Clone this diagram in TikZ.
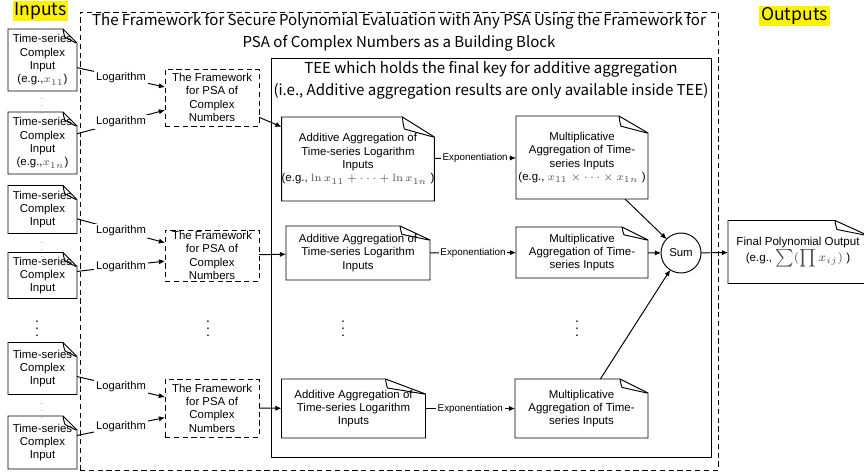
\documentclass[tikz,border=0pt]{standalone}
\usepackage[no-math]{fontspec}
\setmainfont{Liberation Sans}
\newfontfamily\titlefont{Noto Sans CJK KR}
\usetikzlibrary{calc,arrows.meta}

\newdimen\px \px=0.02cm
\colorlet{mathgray}{black!70}

\tikzset{
  box/.style={inner sep=0pt, outer sep=0pt, align=center, font=\fontsize{6.5}{7.6}\selectfont},
  inbox/.style={box, minimum width=69\px},
  fwbox/.style={box, draw, densely dashed, minimum width=94\px},
  aggbox/.style={box, minimum width=144\px},
  frame/.style={draw, inner sep=0pt, outer sep=0pt},
  ttl/.style={align=center, inner sep=0pt, font=\titlefont\fontsize{8.55}{12.6}\selectfont},
  hl/.style={fill=yellow, inner sep=1pt, font=\titlefont\fontsize{10}{12}\selectfont},
  lbl/.style={fill=white, inner sep=1pt, font=\fontsize{6.35}{7}\selectfont},
  explbl/.style={fill=white, inner sep=1pt, font=\fontsize{5.6}{6.5}\selectfont},
  vdots/.style={inner sep=0pt, font=\fontsize{8}{8}\selectfont},
  sdots/.style={inner sep=0pt, text=black!60, font=\fontsize{4.5}{5}\selectfont},
  arr/.style={-{Latex[length=3.5pt,width=3pt]}},
}

% outline of a page with a folded corner
\newcommand\docoutline[3]{%
  \draw (#1.north west) -- ($(#1.north east)+(-#2,0)$) -- ($(#1.north east)+(0,#3)$)
    -- (#1.south east) -- (#1.south west) -- cycle;
  \draw ($(#1.north east)+(-#2,0)$) .. controls ($(#1.north east)+(-#2+1,0.4*#3)$) ..
    ($(#1.north east)+(-#2+2,0.6*#3)$) -- ($(#1.north east)+(-1,#3)$);
}

\begin{document}
\begin{tikzpicture}[x=0.02cm, y=-0.02cm, line width=0.55pt]
  \useasboundingbox (0,0) rectangle (864,473);

  % frames and titles
  \node[frame, densely dashed, minimum width=638\px, minimum height=458\px] (psa) at (399,241) {};
  \node[ttl] (psattl) at (399,32.5) {The Framework for Secure Polynomial Evaluation with Any PSA Using the Framework for\\PSA of Complex Numbers as a Building Block};
  \node[frame, minimum width=440\px, minimum height=399\px] (tee) at (491,257.5) {};
  \node[ttl] (teettl) at (491,80.5) {TEE which holds the final key for additive aggregation\\(i.e., Additive aggregation results are only available inside TEE)};
  \node[hl] (inputs) at (40.5,11) {Inputs};
  \node[hl] (outputs) at (794.5,16) {Outputs};

  % inputs
  \node[inbox, minimum height=62\px] (in1) at (42.5,60) {Time-series\\Complex\\Input\\(e.g.,{\color{mathgray}$x_{11}$})};
  \node[inbox, minimum height=62\px] (in2) at (42.5,143) {Time-series\\Complex\\Input\\(e.g.,{\color{mathgray}$x_{1n}$})};
  \node[inbox, minimum height=48\px] (in3) at (42.5,209.5) {Time-series\\Complex\\Input};
  \node[inbox, minimum height=46\px] (in4) at (42.5,275.5) {Time-series\\Complex\\Input};
  \node[inbox, minimum height=52\px] (in5) at (42.5,368.5) {Time-series\\Complex\\Input};
  \node[inbox, minimum height=53\px] (in6) at (42.5,442.5) {Time-series\\Complex\\Input};
  \foreach \n in {in1,in2,in3,in4,in5,in6} {\docoutline{\n}{14}{14}}
  \node[sdots] (d1) at (42,101) {$\vdots$};
  \node[sdots] (d2) at (42,245) {$\vdots$};
  \node[sdots] (d3) at (42,406) {$\vdots$};
  \node[vdots] (d4) at (37,323) {$\vdots$};

  % frameworks for PSA of complex numbers
  \node[fwbox, minimum height=57\px] (fw1) at (212,97.5) {The Framework\\for PSA of\\Complex\\Numbers};
  \node[fwbox, minimum height=51\px] (fw2) at (212,255.5) {The Framework\\for PSA of\\Complex\\Numbers};
  \node[fwbox, minimum height=58\px] (fw3) at (212,408) {The Framework\\for PSA of\\Complex\\Numbers};
  \node[vdots] (d5) at (208,323) {$\vdots$};

  % aggregation inside TEE
  \node[aggbox, minimum height=84\px] (add1) at (358,159) {Additive Aggregation of\\Time-series Logarithm\\Inputs\\(e.g., {\color{mathgray}$\ln x_{11}+\cdots+\ln x_{1n}$} )};
  \node[aggbox, minimum height=54\px] (add2) at (358,253) {Additive Aggregation of\\Time-series Logarithm\\Inputs};
  \node[aggbox, minimum height=59\px] (add3) at (353.5,408.5) {Additive Aggregation of\\Time-series Logarithm\\Inputs};
  \node[aggbox, minimum width=132\px, minimum height=83\px] (mult1) at (582,157.5) {Multiplicative\\Aggregation of Time-\\series Inputs\\(e.g., {\color{mathgray}$x_{11}\times\cdots\times x_{1n}$} )};
  \node[aggbox, minimum width=132\px, minimum height=51\px] (mult2) at (582,252.5) {Multiplicative\\Aggregation of Time-\\series Inputs};
  \node[aggbox, minimum width=133\px, minimum height=59\px] (mult3) at (581.5,408.5) {Multiplicative\\Aggregation of Time-\\series Inputs};
  \docoutline{add1}{32}{20}
  \docoutline{add2}{30}{14}
  \docoutline{add3}{40}{15}
  \docoutline{mult1}{29}{17}
  \docoutline{mult2}{26}{13}
  \docoutline{mult3}{28}{14}
  \node[vdots] (d6) at (343,323) {$\vdots$};
  \node[vdots] (d7) at (577,323) {$\vdots$};
  \node[box, draw, circle, minimum size=40\px] (sum) at (681,253) {Sum};

  % output
  \node[box, minimum width=140\px, minimum height=63\px, font=\fontsize{6.6}{9}\selectfont] (out) at (798,252) {Final Polynomial Output\\(e.g., {\color{mathgray}$\sum(\prod x_{ij})$} )};
  \docoutline{out}{33}{15}

  % connectors
  \draw[arr] (in1) -- node[lbl] (lg1) {Logarithm} (fw1);
  \draw[arr] (in2) -- node[lbl] (lg2) {Logarithm} (fw1);
  \draw[arr] (in3) -- node[lbl] (lg3) {Logarithm} (fw2);
  \draw[arr] (in4) -- node[lbl] (lg4) {Logarithm} (fw2);
  \draw[arr] (in5) -- node[lbl] (lg5) {Logarithm} (fw3);
  \draw[arr] (in6) -- node[lbl] (lg6) {Logarithm} (fw3);
  \draw[arr] (fw1) -- (add1);
  \draw[arr] (fw2) -- (add2);
  \draw[arr] (fw3) -- (add3);
  \draw[arr] (add1) -- node[explbl] (ex1) {Exponentiation} (mult1);
  \draw[arr] (add2) -- node[explbl] (ex2) {Exponentiation} (mult2);
  \draw[arr] (add3) -- node[explbl] (ex3) {Exponentiation} (mult3);
  \draw[arr] (mult1) -- (sum);
  \draw[arr] (mult2) -- (sum);
  \draw[arr] (mult3) -- (sum);
  \draw[arr] (sum) -- (out);
\end{tikzpicture}
\end{document}
